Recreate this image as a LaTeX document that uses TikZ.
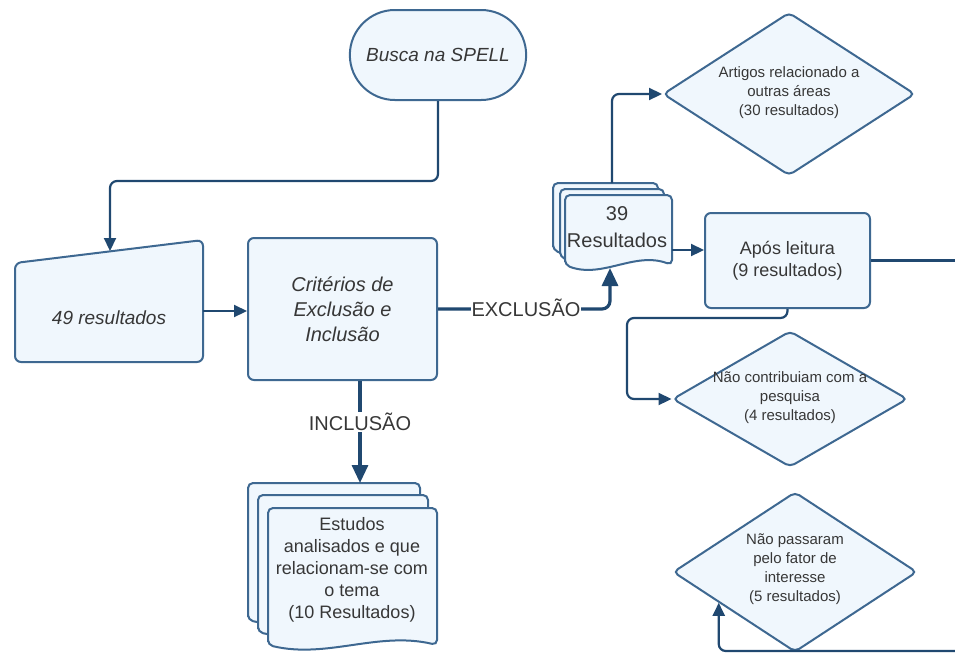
\documentclass[tikz,border=0pt]{standalone}
\usepackage{fontspec}
\setmainfont{Liberation Sans}
\usetikzlibrary{arrows.meta,shapes.geometric,shapes.misc,calc}
\definecolor{boxc}{RGB}{62,104,145}
\definecolor{connc}{RGB}{32,72,112}
\definecolor{fillc}{RGB}{240,247,253}
\definecolor{txtc}{RGB}{55,55,55}
\newcommand\bigit{\fontsize{19}{25}\selectfont\itshape}
\newcommand\critf{\fontsize{20}{25}\selectfont\itshape}
\newcommand\docf{\fontsize{18}{22}\selectfont}
\newcommand\diaf{\fontsize{15}{19}\selectfont}
\newcommand\resf{\fontsize{20}{27}\selectfont}
\newcommand\docpg[4]{%
  \pgfmathsetmacro\dw{#3-#1}%
  \draw[pageln] (#1,#4) -- (#1,#2) -- (#3,#2) -- (#3,#4)
    .. controls +(-0.35*\dw,-14) and +(0.35*\dw,14) .. (#1,#4) -- cycle;%
}
\tikzset{
  base/.style={draw=boxc, fill=fillc, line width=2pt, text=txtc, align=center},
  box/.style={base, rounded corners=6pt},
  term/.style={base, rounded rectangle},
  pageln/.style={draw=boxc, fill=fillc, line width=2pt, rounded corners=5pt},
  txt/.style={text=txtc, align=center, inner sep=0pt},
  dia/.style={diamond, draw=boxc, fill=fillc, line width=2pt, rounded corners=5pt, inner sep=0pt},
  conn/.style={draw=connc, line width=2.2pt, rounded corners=7pt, -{Triangle[length=13pt,width=12pt]}},
  bigconn/.style={draw=connc, line width=3.2pt, rounded corners=8pt, -{Triangle[length=18pt,width=16pt]}},
  plain/.style={draw=connc, line width=2.2pt, rounded corners=7pt},
  lbl/.style={fill=white, text=txtc, inner sep=1pt, font=\fontsize{20}{24}\selectfont}
}
\begin{document}
\begin{tikzpicture}[x=1pt,y=-1pt]
\useasboundingbox (0,0) rectangle (955,659);
\fill[white] (0,0) rectangle (955,659);

% start
\node[term, minimum width=183pt, minimum height=90pt, font=\bigit] (spell) at (438,55) {Busca na SPELL};

% 49 resultados (manual input)
\draw[pageln, rounded corners=6pt] (15,263) -- (203,240) -- (203,362) -- (15,362) -- cycle;
\node[txt, font=\bigit] (n49) at (109,318) {49 resultados};
\coordinate (n49top) at (110,251);
\coordinate (n49e) at (203,311);

% criterios
\node[box, minimum width=189pt, minimum height=142pt, font=\critf] (crit) at (342.5,309) {Critérios de\\Exclusão e\\Inclusão};

% Estudos (multi-document)
\docpg{248}{483}{420}{620}
\docpg{258}{495}{428}{632}
\docpg{268}{508}{437}{645}
\node[txt, font=\docf] (est) at (352,570) {Estudos\\analisados e que\\relacionam-se com\\o tema\\(10 Resultados)};
\coordinate (esttop) at (360,483);

% 39 Resultados (multi-document)
\docpg{553}{183}{658}{250}
\docpg{560}{189}{664}{257}
\docpg{565}{195}{672}{265}
\node[txt, font=\resf] (r39) at (617,227) {39\\Resultados};
\coordinate (r39top) at (612,183);
\coordinate (r39bot) at (610,268);
\coordinate (r39e) at (672,250);

% Apos leitura
\node[box, minimum width=165pt, minimum height=95pt, font=\docf] (apos) at (787.5,260.5) {Após leitura\\(9 resultados)};

% diamonds
\node[dia, minimum width=252pt, minimum height=163pt] (d30) at (789,94) {};
\node[txt, font=\diaf] (t30) at (789,93) {Artigos relacionado a\\outras áreas\\(30 resultados)};
\node[dia, minimum width=235pt, minimum height=136pt] (d4) at (790,399) {};
\node[txt, font=\diaf] (t4) at (790,398) {Não contribuiam com a\\pesquisa\\(4 resultados)};
\node[dia, minimum width=244pt, minimum height=160pt] (d5) at (795,572) {};
\node[txt, font=\diaf] (t5) at (795,569) {Não passaram\\pelo fator de\\interesse\\(5 resultados)};

% free ends
\coordinate (edgeR) at (955,261);
\coordinate (edgeB) at (955,651);
\coordinate (cA) at (627,318);
\coordinate (tip5) at ($(d5.west)!0.38!(d5.south)$);

% connectors
\draw[conn] (spell.south) -- ++(0,80) -| (n49top);
\draw[conn] (n49e) -- (n49e -| crit.west);
\draw[bigconn] (crit.east) -| (r39bot);
\node[lbl] (exc) at (526,308) {EXCLUSÃO};
\draw[bigconn] (esttop |- crit.south) -- (esttop);
\node[lbl] (inc) at (360,422) {INCLUSÃO};
\draw[conn] (r39top) |- (d30.west);
\draw[conn] (r39e) -- (r39e -| apos.west);
\draw[plain] (apos.east) -- (apos.east -| edgeR);
\draw[conn] (apos.south) |- (cA) |- (d4.west);
\draw[conn] (edgeB) -| (tip5);
\end{tikzpicture}
\end{document}
